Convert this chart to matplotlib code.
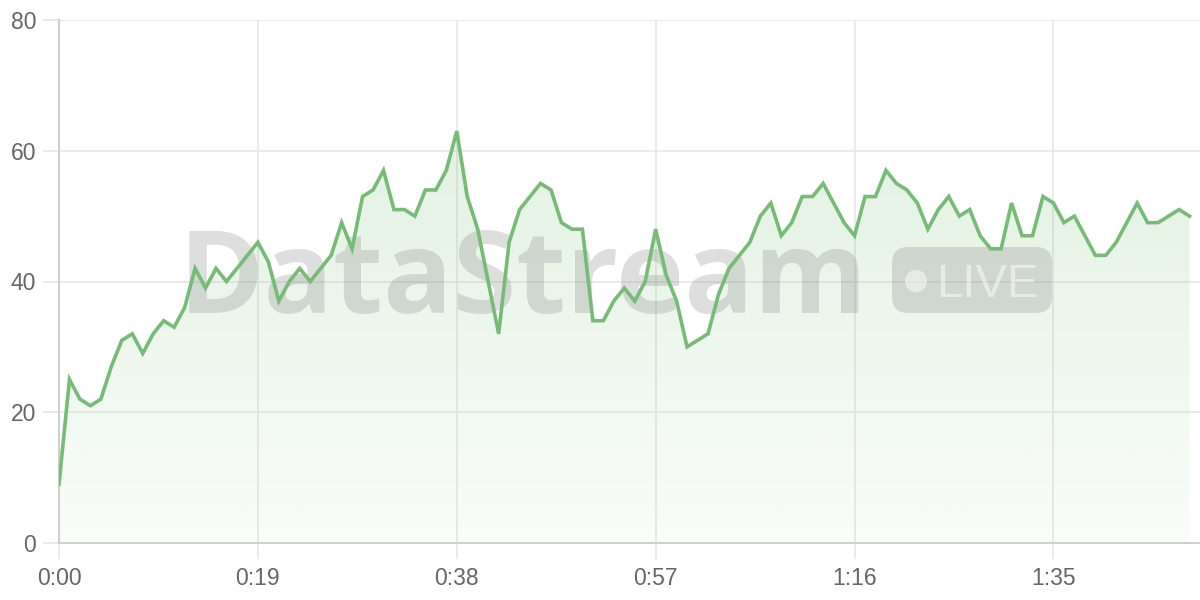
import matplotlib
matplotlib.use("Agg")
import matplotlib.pyplot as plt
import numpy as np
from matplotlib.patches import FancyBboxPatch, Circle, Polygon
from matplotlib.transforms import IdentityTransform

# one reading per second
seconds = list(range(109))
values = [9, 25, 22, 21, 22, 27, 31, 32, 29, 32,
          34, 33, 36, 42, 39, 42, 40, 42, 44, 46,
          43, 37, 40, 42, 40, 42, 44, 49, 45, 53,
          54, 57, 51, 51, 50, 54, 54, 57, 63, 53,
          48, 40, 32, 46, 51, 53, 55, 54, 49, 48,
          48, 34, 34, 37, 39, 37, 40, 48, 41, 37,
          30, 31, 32, 38, 42, 44, 46, 50, 52, 47,
          49, 53, 53, 55, 52, 49, 47, 53, 53, 57,
          55, 54, 52, 48, 51, 53, 50, 51, 47, 45,
          45, 52, 47, 47, 53, 52, 49, 50, 47, 44,
          44, 46, 49, 52, 49, 49, 50, 51, 50]
x_ticks = [0, 19, 38, 57, 76, 95]
y_ticks = [0, 20, 40, 60, 80]

LINE = '#76bc76'
GRID = '#e8e8e8'
AXIS = '#d0d0d0'
TEXT = '#666666'
DPI = 100


def fmt_time(s):
    return f"{s // 60}:{s % 60:02d}"


def px(x, y):
    # pixel position measured from the top-left corner -> display coords
    return x, 600 - y


fig = plt.figure(figsize=(12, 6), dpi=DPI)
ax = fig.add_axes([59 / 1200, 57 / 600, 1141 / 1200, 523 / 600])
ax.set_xlim(0, 109)
ax.set_ylim(0, 80)

# gradient fill under the line
verts = [(seconds[0], 0)] + list(zip(seconds, values)) + [(seconds[-1], 0)]
clip = Polygon(verts, closed=True, facecolor='none', edgecolor='none')
ax.add_patch(clip)
alpha = np.linspace(0.04, 0.25, 256).reshape(-1, 1)
grad = np.zeros((256, 1, 4))
grad[..., 0] = 0x76 / 255
grad[..., 1] = 0xbc / 255
grad[..., 2] = 0x76 / 255
grad[..., 3] = alpha
im = ax.imshow(grad, extent=[0, 109, 0, 80], origin='lower', aspect='auto',
               interpolation='bilinear', zorder=1)
im.set_clip_path(clip)

ax.plot(seconds, values, color=LINE, lw=2.6, solid_joinstyle='miter', zorder=4)

# watermark
wm = '#8a8a8a'
ax.text(*px(179, 313), 'DataStream', transform=IdentityTransform(),
        fontfamily='Open Sans', fontweight='bold', fontsize=83,
        color=wm, alpha=0.28, ha='left', va='baseline', zorder=3, clip_on=False)
bx, by = px(892, 313)
badge = FancyBboxPatch((bx, by), 160, 66, boxstyle='round,pad=0,rounding_size=16',
                       transform=IdentityTransform(), facecolor=wm, edgecolor='none',
                       alpha=0.28, zorder=3)
ax.add_patch(badge)
ax.add_patch(Circle(px(916, 281), 11, transform=IdentityTransform(),
                    facecolor='white', edgecolor='none', alpha=0.5, zorder=3))
ax.text(*px(936, 297), 'LIVE', transform=IdentityTransform(),
        fontfamily='Liberation Sans', fontsize=34, color='white', alpha=0.5,
        ha='left', va='baseline', zorder=3)

ax.set_xticks(x_ticks)
ax.set_xticklabels([fmt_time(s) for s in x_ticks])
ax.set_yticks(y_ticks)
ax.grid(True, color=GRID, lw=1.2, zorder=0)
ax.set_axisbelow(True)

for side in ['top', 'right']:
    ax.spines[side].set_visible(False)
for side in ['left', 'bottom']:
    ax.spines[side].set_color(AXIS)
    ax.spines[side].set_linewidth(1.5)

ax.tick_params(axis='both', colors=GRID, length=11.5, width=1.2,
               labelcolor=TEXT, labelsize=16.5)
ax.tick_params(axis='x', pad=6)
ax.tick_params(axis='y', pad=5)
for lbl in ax.get_xticklabels() + ax.get_yticklabels():
    lbl.set_fontfamily('Liberation Sans')

fig.savefig('out.png', dpi=DPI, facecolor='white')
